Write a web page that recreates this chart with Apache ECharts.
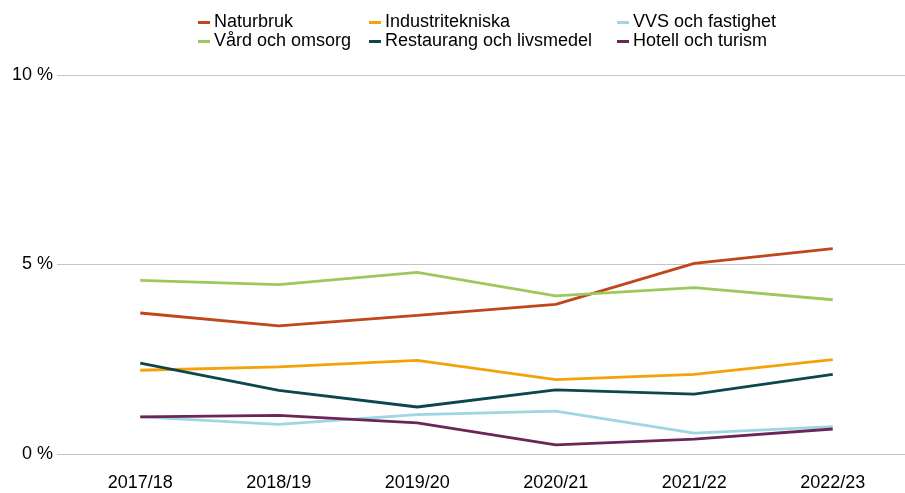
<!DOCTYPE html>
<html>
<head>
<meta charset="utf-8">
<script src="https://cdn.jsdelivr.net/npm/echarts@6/dist/echarts.min.js"></script>
<style>
  html, body { margin: 0; padding: 0; background: #fff; }
  #chart { width: 905px; height: 493px; }
</style>
</head>
<body>
<div id="chart"></div>
<script>
var years = ["2017/18", "2018/19", "2019/20", "2020/21", "2021/22", "2022/23"];
var yTicks = [0, 5, 10];

var naturbruk = [3.72, 3.38, 3.66, 3.95, 5.03, 5.42];
var industri = [2.21, 2.30, 2.47, 1.96, 2.10, 2.49];
var vvs = [0.98, 0.78, 1.04, 1.13, 0.55, 0.72];
var vard = [4.58, 4.47, 4.79, 4.17, 4.39, 4.07];
var restaurang = [2.40, 1.68, 1.24, 1.69, 1.58, 2.10];
var hotell = [0.98, 1.02, 0.82, 0.24, 0.39, 0.66];

var font = "Liberation Sans, Arial, sans-serif";

var chart = echarts.init(document.getElementById("chart"));

function line(name, data, color) {
  return {
    name: name,
    type: "line",
    xAxisIndex: 1,
    yAxisIndex: 1,
    data: data,
    symbol: "none",
    lineStyle: { width: 2.8, color: color },
    itemStyle: { color: color }
  };
}

function legend(left, names) {
  return {
    orient: "vertical",
    left: left,
    top: 8,
    itemGap: 0,
    itemWidth: 12,
    itemHeight: 3,
    icon: "rect",
    data: names,
    textStyle: { fontFamily: font, fontSize: 18, color: "#000", lineHeight: 19, padding: [0, 0, 0, -1] }
  };
}

chart.setOption({
  animation: false,
  legend: [
    legend(193, ["Naturbruk", "Vård och omsorg"]),
    legend(364, ["Industritekniska", "Restaurang och livsmedel"]),
    legend(612, ["VVS och fastighet", "Hotell och turism"])
  ],
  grid: [
    { left: 57, right: 0, top: 75, bottom: 39 },
    { left: 71, right: 3, top: 75, bottom: 39 }
  ],
  xAxis: [
    { type: "category", gridIndex: 0, data: years, show: false },
    {
      type: "category",
      gridIndex: 1,
      data: years,
      axisLine: { show: false },
      axisTick: { show: false },
      axisLabel: { fontFamily: font, fontSize: 18, color: "#000", margin: 20 }
    }
  ],
  yAxis: [
    {
      type: "value",
      gridIndex: 0,
      min: yTicks[0],
      max: yTicks[yTicks.length - 1],
      interval: 5,
      axisLine: { show: false },
      axisTick: { show: false },
      splitLine: { lineStyle: { color: "#c4c4c4", width: 1 } },
      axisLabel: {
        fontFamily: font, fontSize: 18, color: "#000", margin: 4,
        formatter: function (v) { return v + " %"; }
      }
    },
    {
      type: "value",
      gridIndex: 1,
      min: 0,
      max: 10,
      interval: 5,
      show: false
    }
  ],
  series: [
    line("Naturbruk", naturbruk, "#c0461b"),
    line("Industritekniska", industri, "#f5a10a"),
    line("VVS och fastighet", vvs, "#9ed6e2"),
    line("Vård och omsorg", vard, "#9dc95c"),
    line("Restaurang och livsmedel", restaurang, "#0b474d"),
    line("Hotell och turism", hotell, "#6c2558")
  ]
});
</script>
</body>
</html>
